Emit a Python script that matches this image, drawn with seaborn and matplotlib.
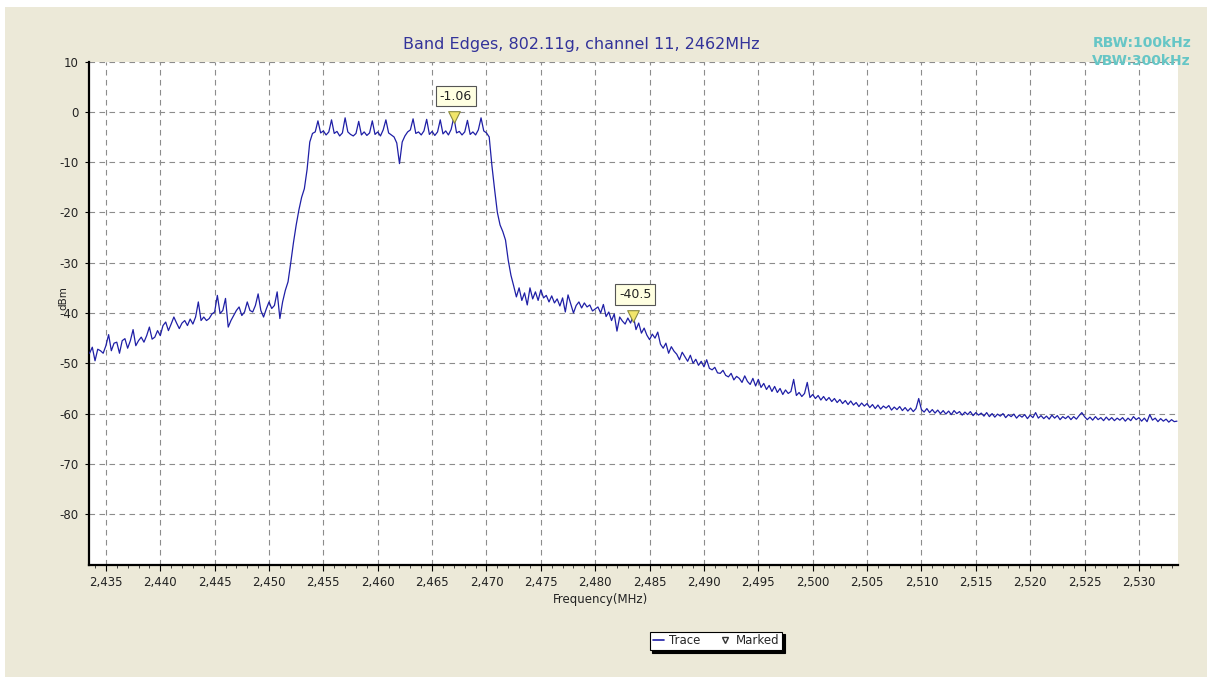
import numpy as np
import matplotlib
matplotlib.use("Agg")
import matplotlib.pyplot as plt
from matplotlib.ticker import FuncFormatter, MultipleLocator
from matplotlib.lines import Line2D
from matplotlib.patches import Rectangle
import seaborn as sns

# sweep: 2433.5 .. 2533.5 MHz, one reading every 0.25 MHz (rows of 5 MHz)
F_START = 2433.5
F_STEP = 0.25
level = [
    -48.0, -46.8, -49.5, -47.2, -47.5, -48.0, -46.5, -44.3, -47.5, -46.0, -45.8, -48.0, -45.5, -45.1, -47.0, -45.5, -43.3, -46.5, -45.5, -44.8,
    -45.8, -44.5, -42.8, -45.2, -44.8, -43.5, -44.5, -42.5, -41.8, -43.5, -42.2, -40.8, -42.0, -43.1, -42.0, -41.5, -42.5, -41.2, -42.2, -40.8,
    -37.8, -41.5, -40.8, -41.5, -41.1, -40.2, -39.8, -36.5, -40.1, -39.5, -37.1, -42.8, -41.5, -40.5, -39.5, -38.8, -40.5, -39.8, -37.8, -39.5,
    -39.8, -38.5, -36.2, -39.5, -40.8, -39.2, -37.8, -39.1, -38.5, -35.8, -41.1, -37.8, -35.5, -33.8, -30.0, -26.0, -22.5, -19.5, -17.0, -15.3,
    -11.5, -6.0, -4.3, -4.0, -1.8, -4.2, -3.8, -4.6, -4.0, -1.6, -4.3, -3.9, -4.8, -4.2, -1.2, -4.0, -4.5, -4.8, -4.3, -1.9,
    -4.6, -4.0, -4.7, -4.2, -1.8, -4.5, -4.0, -4.8, -3.6, -1.6, -4.2, -4.6, -5.0, -6.2, -10.3, -6.0, -4.8, -4.0, -3.6, -1.4,
    -4.3, -4.0, -4.6, -3.8, -1.5, -4.5, -3.9, -4.7, -4.0, -1.6, -4.4, -3.8, -4.6, -3.5, -1.06, -4.2, -3.9, -4.6, -4.0, -1.7,
    -4.5, -4.0, -4.6, -3.6, -1.2, -3.8, -4.2, -5.0, -10.7, -15.5, -20.0, -22.5, -23.8, -25.5, -29.5, -32.5, -34.6, -36.8, -35.0, -37.5,
    -36.0, -38.4, -35.0, -37.2, -35.8, -37.5, -35.4, -37.0, -36.5, -37.8, -36.6, -38.0, -37.2, -38.6, -37.0, -39.8, -36.4, -38.2, -40.0, -38.5,
    -37.8, -39.0, -38.0, -38.8, -38.4, -39.6, -39.2, -38.8, -40.0, -38.3, -40.7, -39.8, -41.5, -40.2, -43.6, -40.8, -41.6, -42.2, -41.0, -42.0,
    -40.5, -43.3, -42.0, -44.0, -43.0, -44.4, -45.3, -44.2, -45.0, -43.8, -46.2, -47.0, -46.0, -48.0, -46.7, -47.6, -48.2, -49.3, -47.8, -48.7,
    -49.6, -48.4, -50.0, -49.2, -50.4, -49.6, -50.7, -49.3, -51.0, -51.3, -50.8, -51.9, -52.0, -51.4, -52.4, -52.7, -52.0, -53.3, -52.6, -53.0,
    -53.8, -52.5, -53.6, -54.2, -53.0, -54.5, -53.2, -54.8, -54.0, -55.2, -54.4, -55.6, -54.6, -55.8, -55.0, -56.2, -55.3, -56.0, -55.6, -53.2,
    -56.4, -55.8, -56.6, -56.0, -53.8, -56.8, -56.2, -57.0, -56.4, -57.3, -56.6, -57.4, -56.8, -57.6, -57.0, -57.8, -57.2, -58.0, -57.4, -58.2,
    -57.5, -58.3, -57.8, -58.6, -57.9, -58.5, -58.0, -58.8, -58.2, -59.0, -58.3, -59.1, -58.5, -58.9, -58.4, -59.3, -58.7, -59.2, -58.6, -59.4,
    -58.8, -59.5, -58.9, -59.6, -59.0, -57.0, -59.2, -59.7, -59.0, -59.8, -59.2, -59.9, -59.3, -60.0, -59.4, -60.1, -59.5, -60.2, -59.4, -60.0,
    -59.6, -60.3, -59.7, -60.2, -59.6, -60.4, -59.8, -60.3, -59.9, -60.5, -59.8, -60.6, -60.0, -60.7, -60.1, -60.5, -60.0, -60.8, -60.2, -60.6,
    -60.1, -60.9, -60.3, -60.7, -60.2, -61.0, -60.3, -60.8, -59.8, -60.9, -60.4, -61.0, -60.5, -61.1, -60.3, -60.9, -60.4, -61.2, -60.6, -61.0,
    -60.5, -61.2, -60.6, -61.1, -60.4, -59.8, -60.6, -61.2, -60.7, -61.3, -60.6, -61.2, -60.8, -61.4, -60.7, -61.3, -60.8, -61.4, -60.9, -61.3,
    -60.8, -61.5, -60.9, -61.4, -60.6, -61.2, -60.8, -61.5, -60.9, -61.6, -60.2, -61.3, -60.9, -61.6, -61.0, -61.5, -61.1, -61.7, -61.2, -61.6,
    -61.5,
]
freq = F_START + F_STEP * np.arange(len(level))

# markers
marker_freq = [2467.0, 2483.5]
marker_level = [-1.06, -40.5]
marker_text = ["-1.06", "-40.5"]

title = "Band Edges, 802.11g, channel 11, 2462MHz"
rbw_text = "RBW:100kHz"
vbw_text = "VBW:300kHz"

TRACE = "#1f1fa6"
BEIGE = "#ece9d8"
W, H = 1214, 677

sns.set_style("ticks")
plt.rcParams["font.family"] = ["DejaVu Sans"]
plt.rcParams["axes.unicode_minus"] = False

fig = plt.figure(figsize=(W / 100, H / 100), dpi=100, facecolor="white")
fig.patches.append(Rectangle((5 / W, 0), 1202 / W, 670 / H, transform=fig.transFigure,
                             facecolor=BEIGE, edgecolor="none", zorder=-10))

ax = fig.add_axes([88.5 / W, 1 - 564.5 / H, (1177.5 - 88.5) / W, (564.5 - 61.5) / H])
ax.set_facecolor("white")

sns.lineplot(x=freq, y=level, ax=ax, color=TRACE, lw=0.9, zorder=3)
ax.scatter(marker_freq, marker_level, marker="v", s=70, facecolor="#f2e66a",
           edgecolor="#8a8a40", linewidth=0.8, zorder=5)
for f, v, t in zip(marker_freq, marker_level, marker_text):
    ax.annotate(t, xy=(f, v), xytext=(2, 21), textcoords="offset pixels",
                ha="center", va="center", fontsize=9, color="#222222", zorder=6,
                bbox=dict(boxstyle="square,pad=0.3", fc="#ffffe1", ec="#555555", lw=0.8))

ax.set_xlim(2433.4, 2533.55)
ax.set_ylim(-90, 10)
ax.xaxis.set_major_locator(MultipleLocator(5))
ax.xaxis.set_minor_locator(MultipleLocator(1))
ax.xaxis.set_major_formatter(FuncFormatter(lambda v, p: f"{v:,.0f}"))
ax.set_yticks(np.arange(-80, 11, 10))
ax.grid(True, which="major", color="#8c8c8c", lw=0.8, ls=(0, (5, 4)))
ax.set_xlabel("")
ax.set_ylabel("")

for s in ["top", "right"]:
    ax.spines[s].set_visible(False)
for s in ["left", "bottom"]:
    ax.spines[s].set_color("black")
    ax.spines[s].set_linewidth(1.6)
ax.tick_params(axis="both", which="major", labelsize=8.5, colors="black", labelcolor="#222222")
ax.tick_params(axis="x", which="major", length=4, width=0.8, pad=4)
ax.tick_params(axis="x", which="minor", length=2.5, width=0.6)
ax.tick_params(axis="y", which="major", length=3, width=0.8, pad=4)

fig.text(581 / W, 1 - 45 / H, title, ha="center", va="center", fontsize=11.5, color="#33339a")
fig.text(1191 / W, 1 - 43 / H, rbw_text, ha="right", va="center", fontsize=10,
         fontweight="bold", color="#66c6c6")
fig.text(1191 / W, 1 - 61 / H, vbw_text, ha="right", va="center", fontsize=10,
         fontweight="bold", color="#66c6c6")
fig.text(63 / W, 1 - 298 / H, "dBm", ha="center", va="center", rotation=90, fontsize=7.5, color="#222222")
fig.text(601 / W, 1 - 599 / H, "Frequency(MHz)", ha="center", va="center", fontsize=8.5, color="#222222")

handles = [Line2D([], [], color=TRACE, lw=1.2),
           Line2D([], [], ls="none", marker="v", markersize=5, markerfacecolor="white",
                  markeredgecolor="#333333")]
leg = fig.legend(handles, ["Trace", "Marked"], loc="center", bbox_to_anchor=(716 / W, 1 - 641 / H),
                 ncol=2, fontsize=8.5, frameon=True, fancybox=False, handlelength=1.0,
                 handletextpad=0.4, columnspacing=1.6, borderpad=0.25,
                 shadow={"color": "black", "alpha": 1.0})
leg.get_frame().set_edgecolor("black")
leg.get_frame().set_linewidth(0.8)
leg.get_frame().set_facecolor("white")

fig.savefig("out.png", dpi=100, facecolor=fig.get_facecolor())
